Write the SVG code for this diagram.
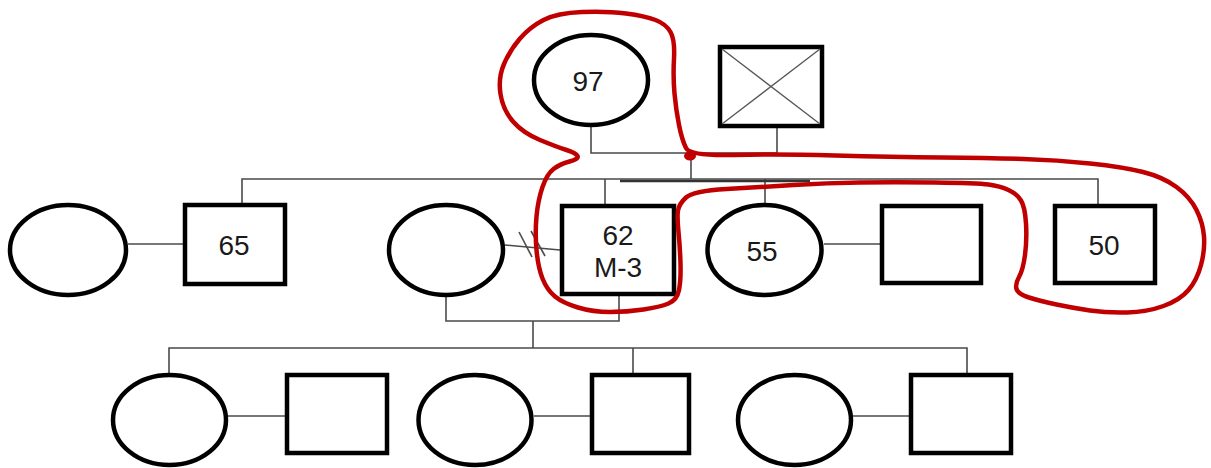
<svg xmlns="http://www.w3.org/2000/svg" width="1211" height="468" viewBox="0 0 1211 468">
  <style>
    .shape { fill: #ffffff; stroke: #000000; stroke-width: 4.5; }
    .line { fill: none; stroke: #4a4a4a; stroke-width: 1.6; }
    .bar { fill: none; stroke: #333333; stroke-width: 2.6; }
    .cross { fill: none; stroke: #555555; stroke-width: 1.3; }
    .label { font-family: "Liberation Sans", Arial, sans-serif; font-size: 28px; fill: #1a1a1a; text-anchor: middle; }
    .mark { fill: none; stroke: #c00000; stroke-width: 4.5; stroke-linejoin: round; stroke-linecap: round; }
  </style>
  <rect x="0" y="0" width="1211" height="468" fill="#ffffff"/>

  <!-- connectors -->
  <g id="connectors">
    <!-- generation I couple -->
    <polyline class="line" points="591,127 591,153 777,153 777,128"/>
    <line class="line" x1="691" y1="153" x2="691" y2="179"/>
    <!-- generation II sibship -->
    <polyline class="line" points="242,203 242,179 1098,179 1098,204"/>
    <line class="line" x1="605" y1="179" x2="605" y2="204"/>
    <line class="line" x1="765" y1="179" x2="765" y2="204"/>
    <line class="bar" x1="620" y1="181" x2="810" y2="181"/>
    <!-- generation II couples -->
    <line class="line" x1="128" y1="244" x2="183" y2="244"/>
    <line class="line" x1="505" y1="245" x2="560" y2="250"/>
    <line class="line" x1="519" y1="232" x2="532" y2="257"/>
    <line class="line" x1="531" y1="231" x2="545" y2="256"/>
    <line class="line" x1="824" y1="244" x2="880" y2="244"/>
    <!-- descent to generation III -->
    <polyline class="line" points="446,297 446,321 619,321 619,296"/>
    <line class="line" x1="533" y1="321" x2="533" y2="348"/>
    <polyline class="line" points="169,373 169,348 967,348 967,375"/>
    <line class="line" x1="633" y1="348" x2="633" y2="375"/>
    <!-- generation III couples -->
    <line class="line" x1="228" y1="416" x2="285" y2="416"/>
    <line class="line" x1="534" y1="416" x2="590" y2="416"/>
    <line class="line" x1="853" y1="416" x2="909" y2="416"/>
  </g>

  <!-- generation I -->
  <g id="n97">
    <ellipse class="shape" cx="591" cy="80" rx="57" ry="45"/>
    <text class="label" x="588" y="91">97</text>
  </g>
  <g id="gf">
    <rect class="shape" x="720" y="47" width="102" height="79"/>
    <line class="cross" x1="722" y1="49" x2="820" y2="124"/>
    <line class="cross" x1="820" y1="49" x2="722" y2="124"/>
  </g>

  <!-- generation II -->
  <g id="w65">
    <ellipse class="shape" cx="68" cy="250" rx="58" ry="45"/>
  </g>
  <g id="n65">
    <rect class="shape" x="185" y="205" width="100" height="79"/>
    <text class="label" x="234" y="255">65</text>
  </g>
  <g id="w62">
    <ellipse class="shape" cx="446" cy="250" rx="57" ry="45"/>
  </g>
  <g id="n62">
    <rect class="shape" x="562" y="206" width="112" height="88"/>
    <text class="label" x="618" y="245">62</text>
    <text class="label" x="618" y="277">M-3</text>
  </g>
  <g id="n55">
    <ellipse class="shape" cx="764.5" cy="250" rx="57" ry="45"/>
    <text class="label" x="762" y="261">55</text>
  </g>
  <g id="h55">
    <rect class="shape" x="882" y="206" width="99" height="77"/>
  </g>
  <g id="n50">
    <rect class="shape" x="1055" y="206" width="100" height="77"/>
    <text class="label" x="1104" y="255">50</text>
  </g>

  <!-- generation III -->
  <g id="c1"><ellipse class="shape" cx="169.5" cy="420" rx="56.5" ry="45"/></g>
  <g id="s1"><rect class="shape" x="287" y="375" width="100" height="78"/></g>
  <g id="c2"><ellipse class="shape" cx="475" cy="420" rx="56.5" ry="45"/></g>
  <g id="s2"><rect class="shape" x="592" y="375" width="97" height="78"/></g>
  <g id="c3"><ellipse class="shape" cx="794.5" cy="420" rx="56.5" ry="45"/></g>
  <g id="s3"><rect class="shape" x="911" y="375" width="100" height="78"/></g>

  <!-- hand-drawn highlight loop -->
  <g id="highlight">
    <path class="mark" d="M 733.5,155 Q 690,156 686,148 Q 682,140 679,125 Q 676,110 674.5,93.5 Q 673,77 674,58.5 Q 675,40 670.5,32 Q 666,24 655.5,20 Q 645,16 626,13.5 Q 607,11 582,12 Q 557,13 543.5,20 Q 530,27 520,38.5 Q 510,50 504,64 Q 498,78 500.5,94 Q 503,110 513,121.5 Q 523,133 540,140 Q 557,147 566.5,150 Q 576,153 577.5,156 Q 579,159 569.5,161.5 Q 560,164 553.5,169 Q 547,174 542.5,187 Q 538,200 536.5,216.5 Q 535,233 536.5,250 Q 538,267 542.5,278.5 Q 547,290 555,296.5 Q 563,303 578,307.5 Q 593,312 610,312 Q 627,312 643.5,309.5 Q 660,307 668.5,303.5 Q 677,300 679,290 Q 681,280 680.5,263.5 Q 680,247 678.5,232 Q 677,217 678,210.5 Q 679,204 686,197.5 Q 693,191 726.5,189 Q 760,187 793.5,185 Q 827,183 860,182.5 Q 893,182 935,182.5 Q 977,183 988.5,184.5 Q 1000,186 1008.5,190 Q 1017,194 1021,200.5 Q 1025,207 1026,223.5 Q 1027,240 1025,255 Q 1023,270 1019,277 Q 1015,284 1016.5,289 Q 1018,294 1029,297.5 Q 1040,301 1056.5,304.5 Q 1073,308 1090,310.5 Q 1107,313 1127,312.5 Q 1147,312 1163.5,306 Q 1180,300 1188.5,290 Q 1197,280 1201,265 Q 1205,250 1204,236.5 Q 1203,223 1196.5,210 Q 1190,197 1176.5,187 Q 1163,177 1143,172 Q 1123,167 1090,163.5 Q 1057,160 1023.5,159 Q 990,158 941.5,157.5 Q 893,157 835,155.5 Q 777,154 733.5,155 Z"/>
    <ellipse cx="690" cy="156" rx="6" ry="4.5" fill="#c00000"/>
  </g>
</svg>
